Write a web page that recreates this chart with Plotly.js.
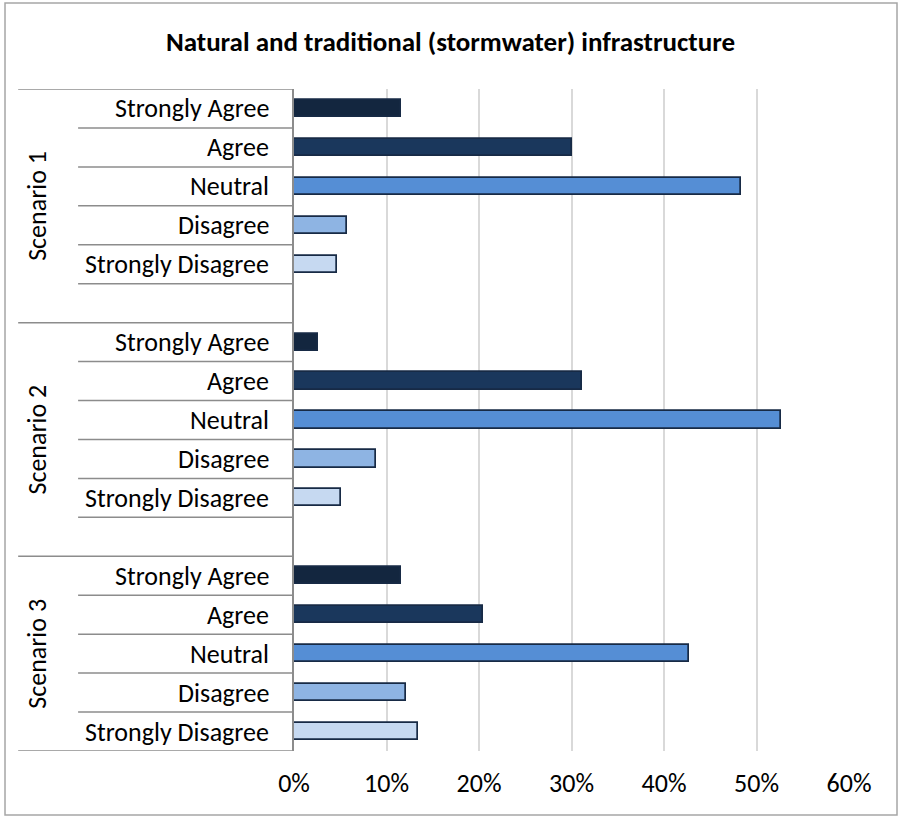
<!DOCTYPE html>
<html>
<head>
<meta charset="utf-8">
<script src="https://cdn.plot.ly/plotly-3.0.1.min.js"></script>
<style>
  html, body { margin: 0; padding: 0; background: #fff; }
  #myDiv { width: 901px; height: 818px; }
</style>
</head>
<body>
<div id="myDiv"></div>
<script>
//---------------------- DATA ---------------------------
var scenarios = ['Scenario 1', 'Scenario 2', 'Scenario 3'];
var levels = ['Strongly Agree', 'Agree', 'Neutral', 'Disagree', 'Strongly Disagree'];
var scenario1 = [0.116, 0.300, 0.483, 0.057, 0.046];
var scenario2 = [0.026, 0.311, 0.526, 0.089, 0.051];
var scenario3 = [0.116, 0.204, 0.427, 0.121, 0.134];
var xTicks = [0, 0.1, 0.2, 0.3, 0.4, 0.5, 0.6];

var colors = ['#13263f', '#1a375c', '#558ed5', '#8eb4e3', '#c6d9f1'];
var FONT = 'Carlito, Lato, "Liberation Sans", sans-serif';

//---------------------- BARS ---------------------------
var allValues = [scenario1, scenario2, scenario3];
var slotsPerGroup = levels.length + 1;   // one empty row between groups
var nSlots = scenarios.length * slotsPerGroup - 1;

function slot(g, l){ return g * slotsPerGroup + l; }

var data = levels.map(function(lv, l){
    return {
        type: 'bar',
        orientation: 'h',
        name: lv,
        x: allValues.map(function(v){ return v[l]; }),
        y: scenarios.map(function(s, g){ return slot(g, l); }),
        width: 0.44,
        marker: {color: colors[l], line: {color: '#172a45', width: 1.7}},
        hoverinfo: 'x+name'
    };
});

//---------------------- TABLE-STYLE LABELS ---------------------------
var labelRight = -0.042;   // category labels, right aligned
var innerLeft = -0.389;    // start of row separators
var outerLeft = -0.497;    // start of group separators
var lineColor = '#8c8c8c';

var annotations = [];
var shapes = [];

scenarios.forEach(function(s, g){
    levels.forEach(function(lv, l){
        annotations.push({
            xref: 'paper', yref: 'y', x: labelRight, y: slot(g, l),
            xanchor: 'right', yanchor: 'middle', showarrow: false,
            text: lv, font: {family: FONT, size: 26, color: '#000'}
        });
    });
    var top = slot(g, 0) - 0.5;
    var bottom = (g < scenarios.length - 1) ? slot(g, slotsPerGroup - 1) + 0.5 : slot(g, levels.length - 1) + 0.5;
    annotations.push({
        xref: 'paper', yref: 'y', x: -0.463, y: (top + bottom) / 2,
        xanchor: 'center', yanchor: 'middle', showarrow: false, textangle: -90,
        text: s, font: {family: FONT, size: 26, color: '#000'}
    });
    // group top line
    shapes.push({type: 'line', xref: 'paper', yref: 'y', x0: outerLeft, x1: 0, y0: top, y1: top,
                 line: {color: lineColor, width: 1.5}});
    // row separators inside group
    for (var k = 1; k < slotsPerGroup; k++){
        var yy = slot(g, k) - 0.5;
        if (yy >= nSlots - 0.5) break;
        shapes.push({type: 'line', xref: 'paper', yref: 'y', x0: innerLeft, x1: 0, y0: yy, y1: yy,
                     line: {color: lineColor, width: 1.5}});
    }
});
// bottom line
shapes.push({type: 'line', xref: 'paper', yref: 'y', x0: outerLeft, x1: 0, y0: nSlots - 0.5, y1: nSlots - 0.5,
             line: {color: lineColor, width: 1.5}});
// chart border
shapes.push({type: 'rect', xref: 'paper', yref: 'paper', x0: -0.5207, x1: 1.0865, y0: -0.0967, y1: 1.1299,
             line: {color: '#a6a6a6', width: 1.5}, fillcolor: 'rgba(0,0,0,0)', layer: 'below'});

var layout = {
    width: 901,
    height: 818,
    margin: {l: 294, r: 52, t: 89, b: 67},
    paper_bgcolor: '#fff',
    plot_bgcolor: '#fff',
    showlegend: false,
    bargap: 0,
    title: {
        text: '<b>Natural and traditional (stormwater) infrastructure</b>',
        font: {family: FONT, size: 27, color: '#000'},
        x: 0.5, xref: 'container', y: 1 - 42 / 818, yref: 'container', yanchor: 'middle'
    },
    xaxis: {
        range: [0, 0.6],
        tickvals: xTicks,
        tickformat: '.0%',
        showgrid: true,
        gridcolor: '#d9d9d9',
        gridwidth: 1.5,
        zeroline: false,
        showline: false,
        ticks: '',
        ticklabelstandoff: 14,
        tickfont: {family: FONT, size: 26, color: '#000'}
    },
    yaxis: {
        range: [nSlots - 0.5, -0.5],
        showticklabels: false,
        showgrid: false,
        zeroline: false,
        showline: true,
        linecolor: lineColor,
        linewidth: 1.5,
        ticks: ''
    },
    annotations: annotations,
    shapes: shapes
};

Plotly.newPlot('myDiv', data, layout, {displayModeBar: false});
</script>
</body>
</html>
